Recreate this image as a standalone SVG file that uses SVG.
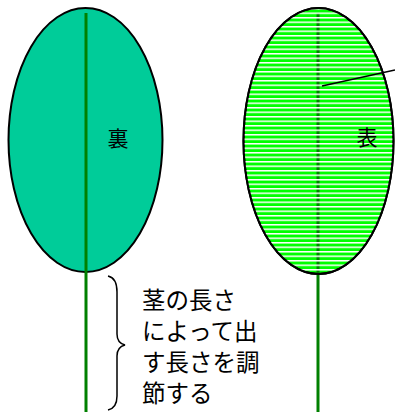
<svg xmlns="http://www.w3.org/2000/svg" width="395" height="412" viewBox="0 0 395 412">
  <defs>
    <style>
      .label { font-family: "Noto Sans CJK JP", "Liberation Sans", sans-serif; fill: #000; }
      .rib { stroke: #008000; stroke-width: 3; fill: none; }
      .outline { stroke: #000; stroke-width: 2; }
    </style>
    <!-- white horizontal hatching for the upper surface -->
    <pattern id="stripes" patternUnits="userSpaceOnUse" x="0" y="8" width="10" height="4.5">
      <rect x="0" y="0" width="10" height="1.5" fill="#fff"/>
    </pattern>
    <clipPath id="frontClip">
      <ellipse cx="318.5" cy="141" rx="75" ry="133"/>
    </clipPath>
  </defs>

  <!-- back side of the leaf -->
  <g id="leaf-back">
    <ellipse class="outline" cx="85.5" cy="140" rx="77" ry="132" fill="#00CC99"/>
    <line class="rib" x1="86" y1="13" x2="86" y2="412"/>
    <text class="label" x="118" y="146" font-size="21" text-anchor="middle">裏</text>
  </g>

  <!-- front side of the leaf -->
  <g id="leaf-front">
    <ellipse class="outline" cx="318.5" cy="141" rx="75" ry="133" fill="#00FF00"/>
    <line class="rib" x1="318" y1="13" x2="318" y2="412"/>
    <rect x="243" y="8" width="152" height="266" fill="url(#stripes)" clip-path="url(#frontClip)"/>
    <ellipse cx="318.5" cy="141" rx="75" ry="133" fill="none" stroke="#000" stroke-width="2"/>
    <text class="label" x="367" y="145" font-size="21" text-anchor="middle">表</text>
  </g>

  <!-- brace and note on stem length -->
  <g id="stem-note">
    <path d="M108,276 Q117,278 117,292 L117,334 Q117,343 125,345 Q117,347 117,356 L117,396 Q117,408 108,410" fill="none" stroke="#000" stroke-width="1.5"/>
    <text class="label" font-size="23.5">
      <tspan x="142" y="309">茎の長さ</tspan>
      <tspan x="142" y="340">によって出</tspan>
      <tspan x="142" y="371">す長さを調</tspan>
      <tspan x="142" y="402">節する</tspan>
    </text>
  </g>

  <g id="connectors">
    <line x1="322" y1="86" x2="395" y2="70" stroke="#000" stroke-width="1.5"/>
  </g>
</svg>
